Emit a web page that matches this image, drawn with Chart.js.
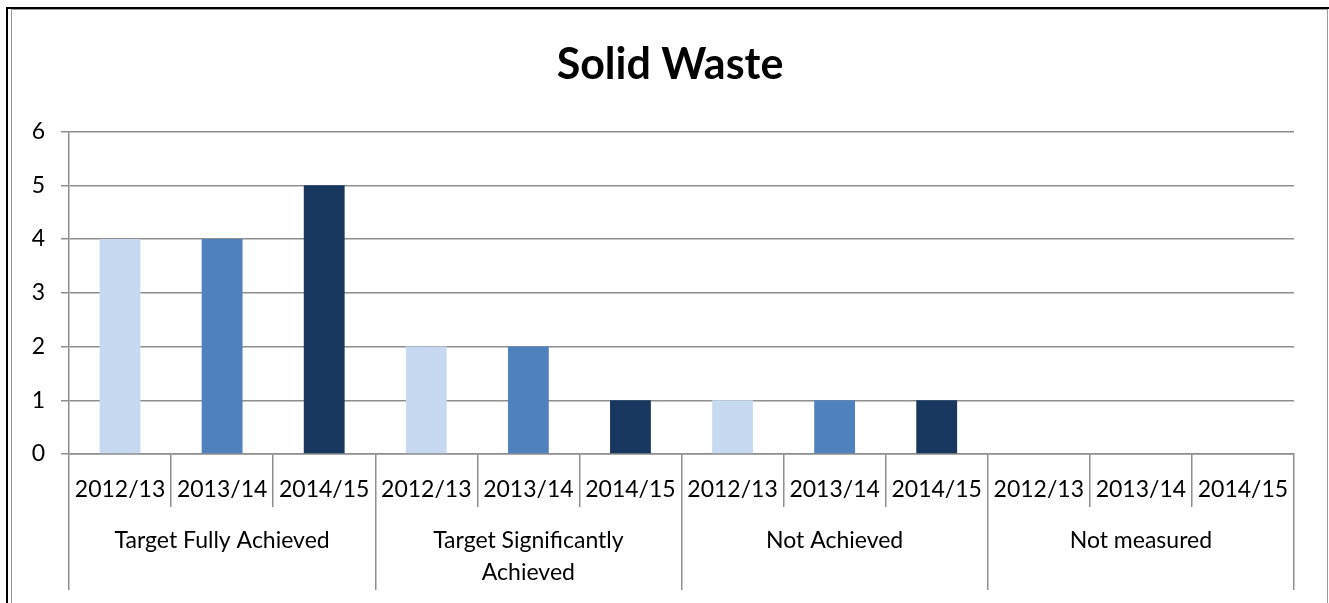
<!DOCTYPE html>
<html>
<head>
<meta charset="utf-8">
<title>Solid Waste</title>
<script src="https://cdn.jsdelivr.net/npm/chart.js@4"></script>
<style>
    html, body { margin: 0; padding: 0; background: #fff; }
    #wrap { position: relative; width: 1329px; height: 603px; overflow: hidden; }
    /* page frame around the chart */
    .frame-outer {
        position: absolute; left: 6px; top: 7px; width: 1400px; height: 700px;
        border-left: 2px solid #000; border-top: 2px solid #000;
    }
    .frame-inner {
        position: absolute; left: 11px; top: 9px; width: 1315px; height: 700px;
        border: 1px solid #9a9a9a;
    }
    #chart { position: absolute; left: 0; top: 0; }
</style>
</head>
<body>
<div id="wrap">
    <div class="frame-outer"></div>
    <div class="frame-inner"></div>
    <canvas id="chart" width="1329" height="603"></canvas>
</div>
<script>
// Data
const groups = ['Target Fully Achieved', ['Target Significantly', 'Achieved'], 'Not Achieved', 'Not measured'];
const years = ['2012/13', '2013/14', '2014/15'];
const values1213 = [4, 2, 1, 0];
const values1314 = [4, 2, 1, 0];
const values1415 = [5, 1, 1, 0];
const yTicks = [0, 1, 2, 3, 4, 5, 6];

const colors = {
    light: '#C6D9F1',
    mid: '#4F81BD',
    dark: '#17375E',
    grid: '#8e8e8e'
};

// Flatten to one bar per (group, year)
const yearSeries = [values1213, values1314, values1415];
const yearColors = [colors.light, colors.mid, colors.dark];
const labels = [];
const values = [];
const barColors = [];
groups.forEach((g, gi) => {
    years.forEach((yr, yi) => {
        labels.push(yr);
        values.push(yearSeries[yi][gi]);
        barColors.push(yearColors[yi]);
    });
});

const tickFont = { family: 'Lato', size: 23 };

const config = {
    type: 'bar',
    data: {
        labels: labels,
        datasets: [{
            data: values,
            backgroundColor: barColors,
            borderWidth: 0,
            barPercentage: 0.4,
            categoryPercentage: 1.0
        }]
    },
    options: {
        responsive: false,
        animation: false,
        layout: {
            padding: { top: 0, right: 0, bottom: 0, left: 11 }
        },
        plugins: {
            legend: { display: false },
            tooltip: { enabled: false },
            title: {
                display: true,
                text: 'Solid Waste',
                color: '#000',
                font: { family: 'Lato', size: 43, weight: 'bold', lineHeight: 1.2 },
                padding: { top: 39, bottom: 41 }
            }
        },
        scales: {
            y: {
                min: 0,
                max: 6,
                afterFit: function(scale) { scale.width = 58; },
                afterBuildTicks: function(scale) {
                    scale.ticks = yTicks.map(v => ({ value: v }));
                },
                ticks: {
                    color: '#000',
                    font: tickFont,
                    padding: 16
                },
                grid: {
                    color: colors.grid,
                    lineWidth: 1.5,
                    tickLength: 8
                },
                border: { display: true, color: colors.grid, width: 1.5 }
            },
            // empty spacer on the right so the plot ends short of the frame
            yRight: {
                position: 'right',
                min: 0,
                max: 6,
                afterFit: function(scale) { scale.width = 35; },
                ticks: { display: false },
                grid: { display: false },
                border: { display: false }
            },
            x: {
                type: 'category',
                position: 'bottom',
                afterFit: function(scale) { scale.height = 53; },
                ticks: {
                    color: '#000',
                    font: tickFont,
                    autoSkip: false,
                    maxRotation: 0,
                    minRotation: 0,
                    padding: -31
                },
                grid: {
                    offset: true,
                    drawOnChartArea: false,
                    drawTicks: true,
                    tickLength: 53,
                    color: colors.grid,
                    lineWidth: 1.5
                },
                border: { display: true, color: colors.grid, width: 1.5 }
            },
            x2: {
                type: 'category',
                position: 'bottom',
                labels: groups,
                afterFit: function(scale) { scale.height = 96; },
                ticks: {
                    color: '#000',
                    font: { family: 'Lato', size: 23, lineHeight: 1.39 },
                    autoSkip: false,
                    maxRotation: 0,
                    minRotation: 0,
                    padding: -65
                },
                grid: {
                    offset: true,
                    drawOnChartArea: false,
                    drawTicks: true,
                    tickLength: 83,
                    color: colors.grid,
                    lineWidth: 1.5
                },
                border: { display: false }
            }
        }
    }
};

new Chart(document.getElementById('chart'), config);
</script>
</body>
</html>
